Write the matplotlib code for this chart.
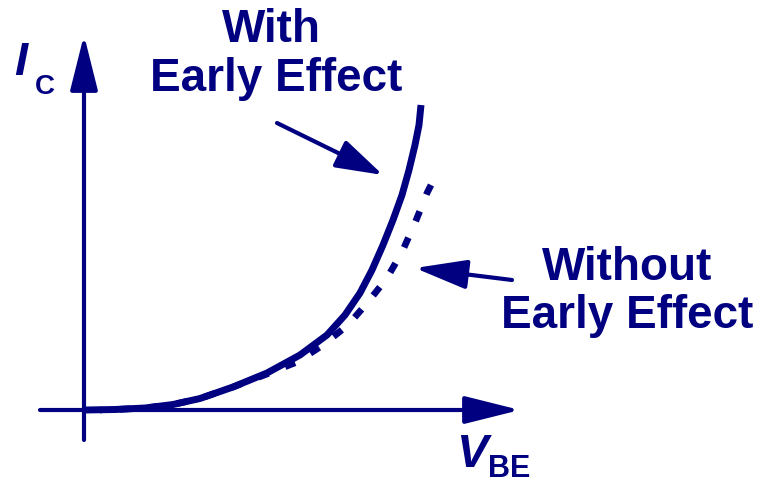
import matplotlib
matplotlib.use("Agg")
import matplotlib.pyplot as plt

navy = "#000080"
plt.rcParams['font.family'] = ['Liberation Sans', 'DejaVu Sans']

# V_BE / I_C curves (arbitrary units)
vbe_with = [0, 0.30, 0.60, 0.88, 1.15, 1.48, 1.82, 2.15, 2.42, 2.60, 2.75, 2.87,
            2.98, 3.08, 3.17, 3.24, 3.30, 3.34, 3.36]
ic_with = [0, 0.005, 0.02, 0.055, 0.115, 0.23, 0.37, 0.55, 0.75, 0.95, 1.17, 1.40,
           1.65, 1.90, 2.15, 2.40, 2.65, 2.85, 3.05]

vbe_without = [0.15, 0.30, 0.60, 0.88, 1.15, 1.48, 1.82, 2.12, 2.38, 2.63, 2.83,
               3.02, 3.17, 3.30, 3.42, 3.46]
ic_without = [0, 0.005, 0.02, 0.055, 0.115, 0.23, 0.36, 0.48, 0.65, 0.85, 1.08,
              1.32, 1.58, 1.87, 2.17, 2.25]

fig = plt.figure(figsize=(7.58, 4.87), dpi=100)
ax = fig.add_axes([0, 0, 1, 1])
ax.set_xlim(-0.85, 6.73)
ax.set_ylim(-0.77, 4.10)
ax.axis('off')

head = '-|>,head_length=3.4,head_width=0.85'
# axes with arrow heads
ax.annotate('', xy=(4.35, 0), xytext=(-0.45, 0),
            arrowprops=dict(arrowstyle=head, lw=3, color=navy,
                            shrinkA=0, shrinkB=0, mutation_scale=10))
ax.annotate('', xy=(-0.01, 3.75), xytext=(-0.01, -0.30),
            arrowprops=dict(arrowstyle=head, lw=3, color=navy,
                            shrinkA=0, shrinkB=0, mutation_scale=10))

# dashed curve drawn from its top end so the pattern starts with a full dash there
ax.plot(vbe_without[::-1], ic_without[::-1], color=navy, lw=4.8, dashes=(1.6, 2.7),
        solid_capstyle='butt', dash_capstyle='butt')
ax.plot(vbe_with, ic_with, color=navy, lw=5, solid_capstyle='butt',
        solid_joinstyle='round')

# axis labels
ax.text(-0.64, 3.47, 'I', fontsize=34, fontweight='bold', style='italic',
        color=navy, ha='center', va='center')
ax.text(-0.40, 3.23, 'C', fontsize=20, fontweight='bold',
        color=navy, ha='center', va='center')
ax.text(3.87, -0.45, 'V', fontsize=34, fontweight='bold', style='italic',
        color=navy, ha='center', va='center')
ax.text(4.24, -0.59, 'BE', fontsize=22, fontweight='bold',
        color=navy, ha='center', va='center')

# curve annotations
ax.text(1.86, 3.80, 'With', fontsize=33, fontweight='bold', color=navy,
        ha='center', va='center')
ax.text(1.91, 3.31, 'Early Effect', fontsize=33, fontweight='bold', color=navy,
        ha='center', va='center')
ax.annotate('', xy=(2.98, 2.35), xytext=(1.92, 2.87),
            arrowprops=dict(arrowstyle='-|>,head_length=2.9,head_width=0.9',
                            lw=3, color=navy, shrinkA=0, shrinkB=0, mutation_scale=10))

ax.text(5.42, 1.42, 'Without', fontsize=33, fontweight='bold', color=navy,
        ha='center', va='center')
ax.text(5.42, 0.94, 'Early Effect', fontsize=33, fontweight='bold', color=navy,
        ha='center', va='center')
ax.annotate('', xy=(3.30, 1.42), xytext=(4.27, 1.30),
            arrowprops=dict(arrowstyle='-|>,head_length=3.2,head_width=0.9',
                            lw=3, color=navy, shrinkA=0, shrinkB=0, mutation_scale=10))

fig.savefig('out.png', dpi=100, facecolor='white')
